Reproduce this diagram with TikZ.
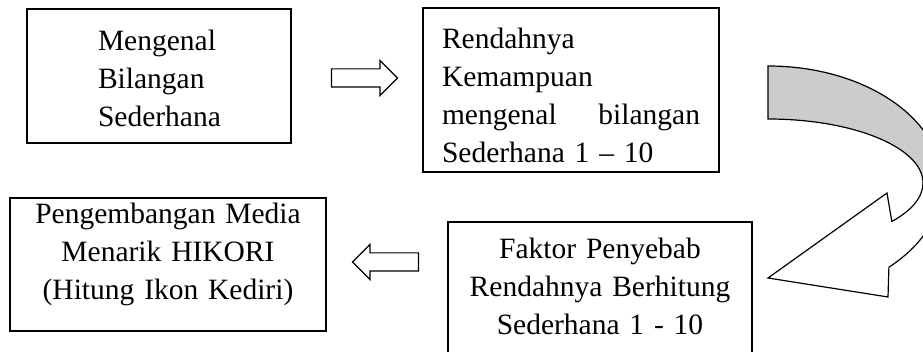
\documentclass[tikz,border=0pt]{standalone}
\usepackage{fontspec}
\setmainfont{Liberation Serif}
\usetikzlibrary{calc,shapes.arrows}

\begin{document}
\begin{tikzpicture}[x=1pt,y=-1pt,
				box/.style={draw,rectangle,line width=1.3pt,inner ysep=0pt,inner xsep=0pt,outer sep=0pt,
					anchor=north west,font=\fontsize{29.5}{38}\selectfont},
				flow/.style={single arrow,draw,line width=1.2pt,fill=white,inner xsep=0pt,inner ysep=8.5pt,
					minimum height=66pt,single arrow head extend=8.5pt}]
				\useasboundingbox (0,0) rectangle (923,352);
				\node (KENAL)  [box,text width=122pt,inner xsep=71pt,align=left,text height=42pt,text depth=92pt]
					at (27,9) {Mengenal\\Bilangan\\Sederhana};
				\node (RENDAH) [box,text width=258pt,inner xsep=19pt,align=left,text height=41pt,text depth=123pt]
					at (423,8) {Rendahnya\\Kemampuan\\mengenal\hfill bilangan\\Sederhana 1 – 10};
				\node (MEDIA)  [box,text width=316pt,align=center,text height=26pt,text depth=107pt]
					at (10,198) {Pengembangan Media\\Menarik HIKORI\\(Hitung Ikon Kediri)};
				\node (FAKTOR) [box,text width=304pt,align=center,text height=37pt,text depth=140pt]
					at (448,222) {Faktor Penyebab\\Rendahnya Berhitung\\Sederhana 1 - 10};
				
				\node (NEXT) [flow] at (360,78) {};
				\node (BACK) [flow,shape border rotate=180] at (390,262) {};
				
				% curved arrow, cut off at the right edge
				\begin{scope}
					\clip (0,0) rectangle (923,352);
					\draw[line width=1.2pt,fill=black!20] (768,66) arc[start angle=-90,end angle=0,x radius=174,y radius=117]
						-- (923,183) arc[start angle=0,end angle=-90,x radius=155,y radius=64] -- cycle;
					\draw[line width=1.2pt,fill=white] (923,183) arc[start angle=0,end angle=37,x radius=155,y radius=64]
						-- (887,193) -- (768,278) -- (888,297) -- (888.9,267.2)
						arc[start angle=46,end angle=0,x radius=174,y radius=117] -- cycle;
				\end{scope}
			\end{tikzpicture}
\end{document}
